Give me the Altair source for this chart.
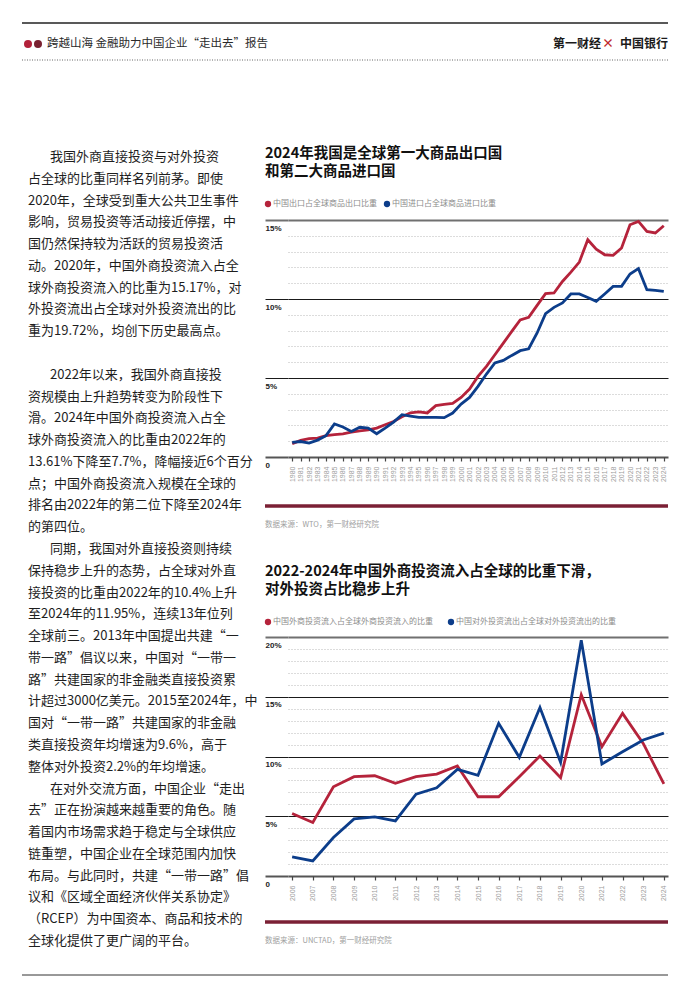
import altair as alt
import pandas as pd

FONT = "Noto Sans CJK SC"
RED = "#b5233b"
BLUE = "#0c3d8a"
BAR = "#7b2035"

# ---------------- text content ----------------
HEADER_LEFT = "跨越山海 金融助力中国企业“走出去”报告"
HEADER_RIGHT = ["第一财经", "×", "中国银行"]
DOT_COLORS = ["#b3213a", "#7a2131"]

PARA1 = [
    "我国外商直接投资与对外投资",
    "占全球的比重同样名列前茅。即使",
    "2020年，全球受到重大公共卫生事件",
    "影响，贸易投资等活动接近停摆，中",
    "国仍然保持较为活跃的贸易投资活",
    "动。2020年，中国外商投资流入占全",
    "球外商投资流入的比重为15.17%，对",
    "外投资流出占全球对外投资流出的比",
    "重为19.72%，均创下历史最高点。",
]
PARA2 = [
    "2022年以来，我国外商直接投",
    "资规模由上升趋势转变为阶段性下",
    "滑。2024年中国外商投资流入占全",
    "球外商投资流入的比重由2022年的",
    "13.61%下降至7.7%，降幅接近6个百分",
    "点；中国外商投资流入规模在全球的",
    "排名由2022年的第二位下降至2024年",
    "的第四位。",
]
PARA3 = [
    "同期，我国对外直接投资则持续",
    "保持稳步上升的态势，占全球对外直",
    "接投资的比重由2022年的10.4%上升",
    "至2024年的11.95%，连续13年位列",
    "全球前三。2013年中国提出共建“一",
    "带一路”倡议以来，中国对“一带一",
    "路”共建国家的非金融类直接投资累",
    "计超过3000亿美元。2015至2024年，中",
    "国对“一带一路”共建国家的非金融",
    "类直接投资年均增速为9.6%，高于",
    "整体对外投资2.2%的年均增速。",
]
PARA4 = [
    "在对外交流方面，中国企业“走出",
    "去”正在扮演越来越重要的角色。随",
    "着国内市场需求趋于稳定与全球供应",
    "链重塑，中国企业在全球范围内加快",
    "布局。与此同时，共建“一带一路”倡",
    "议和《区域全面经济伙伴关系协定》",
    "（RCEP）为中国资本、商品和技术的",
    "全球化提供了更广阔的平台。",
]
PARAS = [PARA1, PARA2, PARA3, PARA4]
PARA_START_ROWS = [0, 10, 18, 29]

# ---------------- chart 1 data ----------------
TITLE1 = ["2024年我国是全球第一大商品出口国", "和第二大商品进口国"]
LEGEND1 = ["中国出口占全球商品出口比重", "中国进口占全球商品进口比重"]
SOURCE1 = "数据来源：WTO，第一财经研究院"
YEARS1 = list(range(1980, 2025))
EXPORT_SHARE = [0.84, 1.05, 1.16, 1.2, 1.35, 1.41, 1.47, 1.58, 1.66, 1.71,
                1.83, 2.04, 2.25, 2.55, 2.8, 2.85, 2.79, 3.25, 3.33, 3.39,
                3.77, 4.3, 5.1, 5.74, 6.47, 7.21, 7.95, 8.67, 8.84, 9.6,
                10.34, 10.38, 11.11, 11.7, 12.34, 13.75, 13.16, 12.8, 12.76, 13.23,
                14.7, 14.91, 14.28, 14.18, 14.64]
IMPORT_SHARE = [0.93, 0.98, 0.88, 1.07, 1.35, 2.09, 1.9, 1.62, 1.88, 1.83,
                1.47, 1.83, 2.21, 2.68, 2.59, 2.51, 2.51, 2.51, 2.49, 2.78,
                3.35, 3.77, 4.47, 5.25, 5.95, 6.11, 6.43, 6.73, 6.85, 7.85,
                9.07, 9.47, 9.75, 10.32, 10.32, 10.1, 9.85, 10.32, 10.8, 10.8,
                11.58, 11.92, 10.59, 10.55, 10.48]

# ---------------- chart 2 data ----------------
TITLE2 = ["2022-2024年中国外商投资流入占全球的比重下滑，", "对外投资占比稳步上升"]
LEGEND2 = ["中国外商投资流入占全球外商投资流入的比重", "中国对外投资流出占全球对外投资流出的比重"]
SOURCE2 = "数据来源：UNCTAD，第一财经研究院"
YEARS2 = list(range(2006, 2025))
FDI_IN = [5.23, 4.48, 7.47, 8.31, 8.39, 7.75, 8.31, 8.53, 9.2, 6.63,
          6.63, 8.31, 10.04, 8.22, 15.17, 10.82, 13.61, 11.1, 7.7]
FDI_OUT = [1.6, 1.26, 3.22, 4.78, 4.95, 4.61, 6.85, 7.38, 8.92, 8.42,
           12.78, 9.93, 14.1, 9.51, 19.72, 9.37, 10.4, 11.38, 11.95]

DUMMY = pd.DataFrame({"k": [0]})


def text_mark(text, x, y, size, color, weight="normal", align="left", font=FONT,
              baseline="middle", line_height=None):
    kw = dict(font=font, fontSize=size, color=color, fontWeight=weight,
              align=align, baseline=baseline)
    if line_height:
        kw["lineHeight"] = line_height
    return alt.Chart(DUMMY).mark_text(**kw).encode(
        x=alt.value(x), y=alt.value(y), text=alt.value(text))


def hrule(x1, x2, y, color, width, dash=None):
    kw = dict(color=color, strokeWidth=width)
    if dash:
        kw["strokeDash"] = dash
    return alt.Chart(DUMMY).mark_rule(**kw).encode(
        x=alt.value(x1), x2=alt.value(x2), y=alt.value(y))


def dot(x, y, color, size):
    return alt.Chart(DUMMY).mark_circle(color=color, size=size, opacity=1).encode(
        x=alt.value(x), y=alt.value(y))


def legend_layers(names, y, x_items):
    layers = []
    for name, color, x0 in zip(names, [RED, BLUE], x_items):
        layers.append(dot(x0, y, color, 40))
        layers.append(text_mark(name, x0 + 5, y, 8, "#8c8c8c"))
    return layers


# ---------------- left column (header + body text) ----------------
rows = []
for para, start in zip(PARAS, PARA_START_ROWS):
    for i, line in enumerate(para):
        rows.append({"line": line, "row": start + i, "indent": 1 if i == 0 else 0})
body_df = pd.DataFrame(rows)

body = alt.Chart(body_df).mark_text(
    font=FONT, fontSize=13, color="#1e1e1e", align="left", baseline="middle"
).encode(
    x=alt.X("indent:Q", scale=alt.Scale(domain=[0, 1], range=[20, 42]), axis=None),
    y=alt.Y("row:Q", scale=alt.Scale(domain=[0, 36], range=[149, 933]), axis=None),
    text="line:N",
)

left = alt.layer(
    hrule(14, 660, 15, "#222222", 1.5),
    dot(20, 36, DOT_COLORS[0], 64),
    dot(30, 36, DOT_COLORS[1], 64),
    text_mark(HEADER_LEFT, 39, 36, 11.5, "#2a2a2a"),
    text_mark(HEADER_RIGHT[0], 593, 36, 12, "#1a1a1a", weight="bold", align="right"),
    text_mark(HEADER_RIGHT[1], 600, 36, 12, "#c0282d", weight="bold", align="center"),
    text_mark(HEADER_RIGHT[2], 660, 36, 12, "#1a1a1a", weight="bold", align="right"),
    hrule(14, 660, 52, "#666666", 1, dash=[1, 1.5]),
    body,
    hrule(14, 660, 967, "#333333", 1),
).properties(width=280, height=971)


# ---------------- chart panels ----------------
def line_panel(years, s1, s2, names, ymax, pad, height):
    df = pd.DataFrame({
        "year": [str(y) for y in years] * 2,
        "value": list(s1) + list(s2),
        "series": [names[0]] * len(years) + [names[1]] * len(years),
    })
    major = "datum.value % 5 === 0"
    edge = f"datum.value === {ymax} || datum.value === 0"
    grid_color = {"condition": [
        {"test": f"datum.value === {ymax}", "value": "#707070"},
        {"test": "datum.value === 0", "value": "#555555"},
        {"test": major, "value": "#1a1a1a"},
    ], "value": "#b8b8b8"}
    grid_dash = {"condition": {"test": major, "value": []}, "value": [1, 2]}
    grid_width = {"condition": {"test": edge, "value": 2}, "value": 1}
    tick_opacity = {"condition": {"test": major, "value": 1}, "value": 0}

    y_axis = alt.Axis(
        values=list(range(0, ymax + 1)), title=None, domain=False,
        grid=True, gridColor=grid_color, gridDash=grid_dash, gridWidth=grid_width,
        ticks=True, tickSize=23, tickColor=grid_color, tickWidth=grid_width,
        tickOpacity=tick_opacity,
        labelExpr="datum.value % 5 === 0 ? (datum.value === 0 ? '0' : datum.value + '%') : ''",
        labelAlign="left", labelBaseline="top", labelOffset=4, labelPadding=0,
        labelFontSize=8, labelFontWeight="bold", labelColor="#222222",
        labelFont="Liberation Sans", labelOverlap=False, labelFlush=False, labelBound=False,
    )
    x_axis = alt.Axis(
        title=None, domain=False, grid=False, labelAngle=270, labelFontSize=7,
        labelColor="#9d9d9d", labelFont="Liberation Sans", tickSize=4,
        tickColor="#444444", tickWidth=1.2, labelPadding=5, labelOverlap=False,
    )
    return alt.Chart(df).mark_line(strokeWidth=2.8).encode(
        x=alt.X("year:O", scale=alt.Scale(type="point", padding=pad), axis=x_axis),
        y=alt.Y("value:Q", scale=alt.Scale(domain=[0, ymax], nice=False), axis=y_axis),
        color=alt.Color("series:N", scale=alt.Scale(domain=names, range=[RED, BLUE]),
                        legend=None),
    ).properties(width=380, height=height)


c1 = line_panel(YEARS1, EXPORT_SHARE, IMPORT_SHARE, LEGEND1, 15, 0.5, 237)
c2 = line_panel(YEARS2, FDI_IN, FDI_OUT, LEGEND2, 20, 0.2, 239)

top_block = alt.layer(
    text_mark(TITLE1, -23, 139, 14.5, "#111111", weight="bold",
              baseline="top", line_height=18),
    *legend_layers(LEGEND1, 196, [-20, 99]),
).properties(width=380, height=212)

mid_block = alt.layer(
    hrule(-23, 380, 49, BAR, 3.5),
    text_mark(SOURCE1, -23, 68, 7.5, "#a0a0a0"),
    text_mark(TITLE2, -23, 108, 14.5, "#111111", weight="bold",
              baseline="top", line_height=18),
    *legend_layers(LEGEND2, 165, [-20, 163]),
).properties(width=380, height=180)

bottom_block = alt.layer(
    hrule(-23, 380, 46, BAR, 3.5),
    text_mark(SOURCE2, -23, 65, 7.5, "#a0a0a0"),
).properties(width=380, height=95)

right = alt.vconcat(top_block, c1, mid_block, c2, bottom_block, spacing=0, bounds="flush")

chart = alt.hconcat(left, right, spacing=0, bounds="flush").properties(
    padding=0, background="white"
).configure(font=FONT).configure_view(strokeWidth=0, stroke="transparent")

chart.save("out.html", embed_options={"renderer": "svg", "actions": False})
